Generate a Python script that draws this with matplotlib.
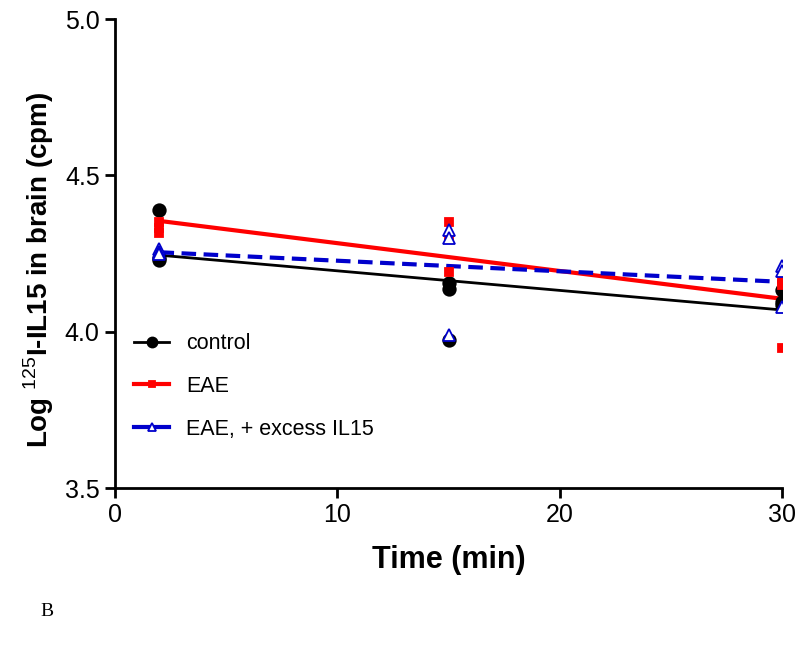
import numpy as np
import matplotlib
matplotlib.use("Agg")
import matplotlib.pyplot as plt

plt.rcParams['font.family'] = ['Liberation Sans', 'DejaVu Sans']
plt.rcParams['mathtext.fontset'] = 'custom'
plt.rcParams['mathtext.rm'] = 'Liberation Sans'
plt.rcParams['mathtext.bf'] = 'Liberation Sans:bold'

# tiempos (min) y valores
t_control = [2, 2, 2, 15, 15, 15, 30, 30, 30]
y_control = [4.39, 4.235, 4.23, 4.155, 4.135, 3.974, 4.133, 4.095, 4.085]

t_eae = [2, 2, 2, 15, 15, 15, 30, 30, 30]
y_eae = [4.35, 4.33, 4.315, 4.352, 4.30, 4.19, 4.16, 4.15, 3.947]

t_il15 = [2, 2, 2, 15, 15, 15, 30, 30, 30]
y_il15 = [4.265, 4.255, 4.25, 4.325, 4.30, 3.99, 4.21, 4.195, 4.08]

labels = ["control", "EAE", "EAE, + excess IL15"]
x_ticks = [0, 10, 20, 30]
y_ticks = [3.5, 4.0, 4.5, 5.0]

fig = plt.figure(figsize=(8.0, 6.51), dpi=100)
ax = fig.add_axes([115/800, 1-488/651, (782-115)/800, (488-19)/651])

series = [
    (t_control, y_control, 'black', 'o', 9, 2.0, '-', 'black'),
    (t_eae, y_eae, '#ff0000', 's', 6, 3.0, '-', '#ff0000'),
    (t_il15, y_il15, '#0000cc', '^', 8, 3.0, (0, (3.5, 1.8)), 'white'),
]

for (t, y, col, mk, ms, lw, ls, fc), lab in zip(series, labels):
    t = np.array(t)
    y = np.array(y)
    pend, orig = np.polyfit(t, y, 1)  # ajuste lineal
    xf = np.array([t.min(), t.max()])
    ax.plot(xf, orig + pend*xf, color=col, lw=lw, ls=ls, zorder=2)
    ax.plot(t, y, ls='none', marker=mk, ms=ms, color=col, mfc=fc,
            mec=col, mew=1.3, zorder=3)
    # entrada de leyenda
    ax.plot([], [], color=col, lw=lw, ls='-', marker=mk, ms=ms*0.8,
            mfc=fc, mec=col, mew=1.3, label=lab)

ax.set_xlim(0, 30)
ax.set_ylim(3.5, 5.0)
ax.set_xticks(x_ticks)
ax.set_yticks(y_ticks)
ax.set_yticklabels(["%.1f" % v for v in y_ticks])
ax.tick_params(labelsize=18, width=2, length=7, direction='out', pad=4)

for s in ['top', 'right']:
    ax.spines[s].set_visible(False)
for s in ['left', 'bottom']:
    ax.spines[s].set_linewidth(2)

ax.set_xlabel("Time (min)", fontsize=22, fontweight='bold', labelpad=13)
ax.set_ylabel(r"Log $^{125}$I-IL15 in brain (cpm)", fontsize=20,
              fontweight='bold')
ax.yaxis.set_label_coords(-0.088, 0.465)

ax.legend(loc='lower left', bbox_to_anchor=(0.0, 0.062), frameon=False,
          fontsize=15.5, handlelength=1.6, labelspacing=1.0, handletextpad=0.8)

fig.text(40/800, 1-612/651, "B", fontsize=14, family='Liberation Serif',
         va='center')

fig.savefig("out.png", dpi=100)
